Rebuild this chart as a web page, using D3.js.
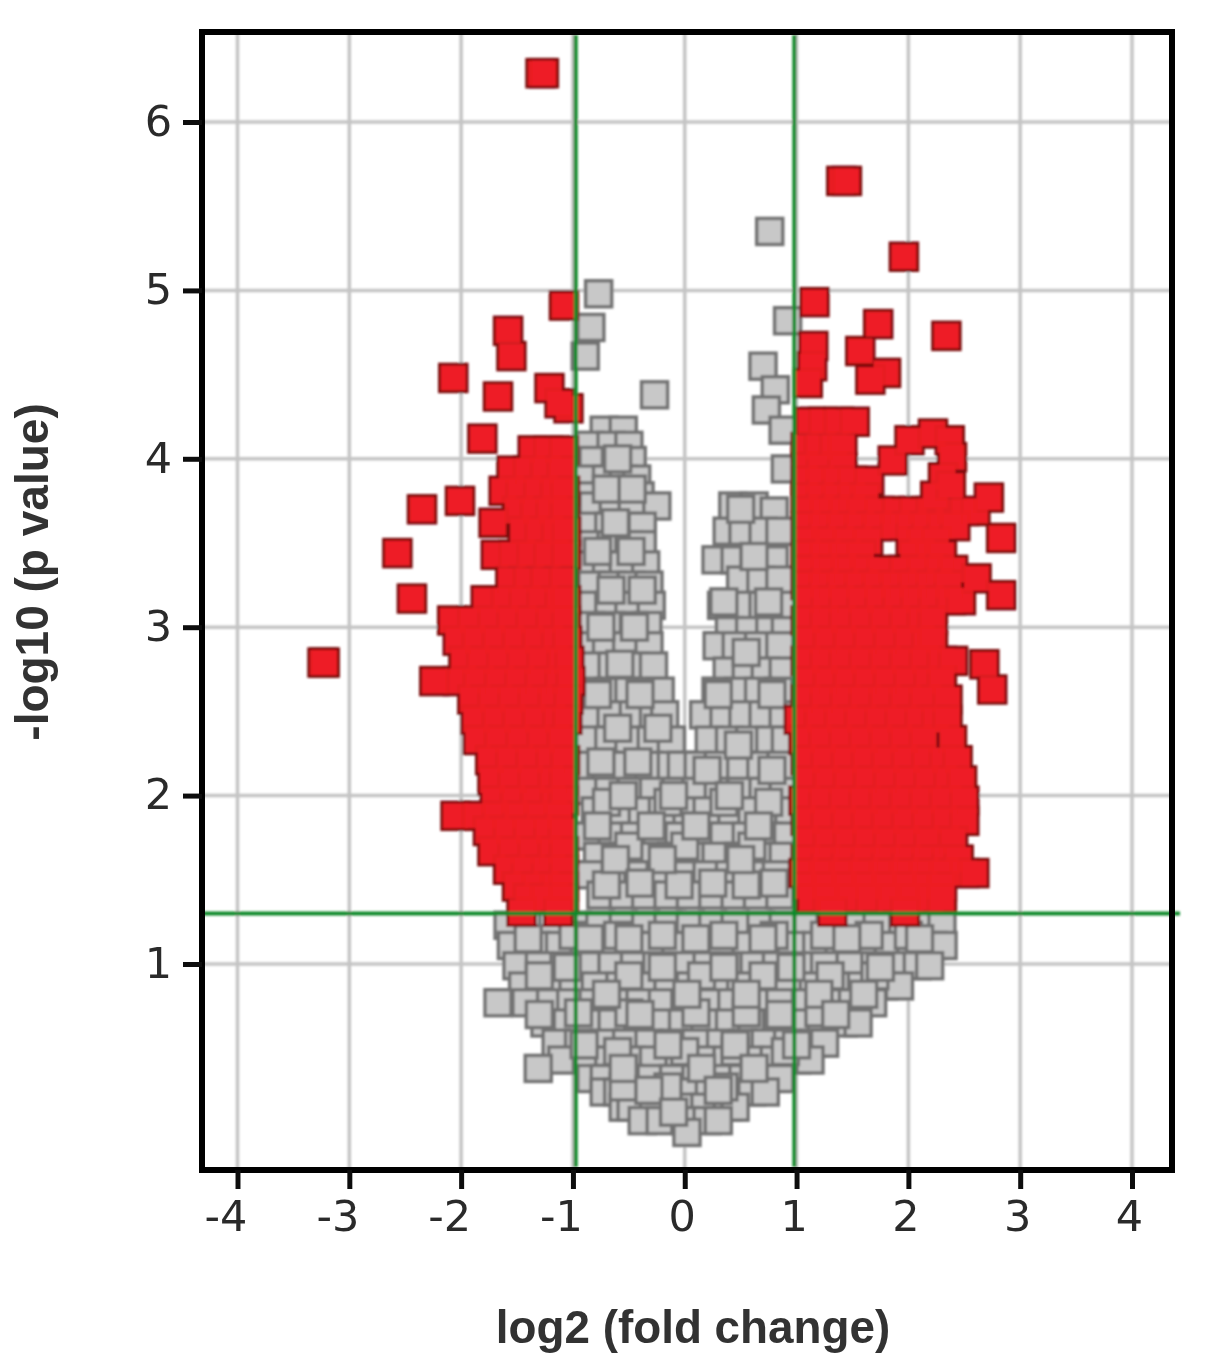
<!DOCTYPE html>
<html><head><meta charset="utf-8">
<script src="https://d3js.org/d3.v7.min.js"></script>
<style>html,body{margin:0;background:#fff}svg{display:block}</style></head>
<body><svg id="c" width="1205" height="1366"></svg>
<script>
// tick labels and thresholds
const xTicks=[-4,-3,-2,-1,0,1,2,3,4];
const yTicks=[1,2,3,4,5,6];
const xThresholds=[-0.975,0.98];
const yThreshold=1.3;
// each row: [y, x, x, ...]
const grayOutliers=[[5.35,0.76],[4.98,-0.77],[4.82,0.92],[4.78,-0.84],[4.61,-0.89],[4.55,0.70],[4.41,0.81],[4.38,-0.27],[4.29,0.73],[4.17,0.88],[3.94,0.90],[0.77,-1.67],[0.38,-1.31]];
const grayLeftWing=[
[4.17,-0.72,-0.55],[4.08,-0.85,-0.66,-0.5],[3.99,-0.82,-0.62,-0.47],[3.88,-0.86,-0.7,-0.55,-0.43],
[3.78,-0.85,-0.68,-0.52,-0.4],[3.72,-0.82,-0.64,-0.47,-0.25],[3.60,-0.86,-0.68,-0.52,-0.38],
[3.49,-0.84,-0.66,-0.5,-0.38],[3.37,-0.85,-0.7,-0.55,-0.35],[3.25,-0.83,-0.65,-0.48,-0.32],
[3.13,-0.86,-0.68,-0.5,-0.3],[3.01,-0.84,-0.66,-0.46,-0.33],[2.89,-0.85,-0.7,-0.52,-0.32],
[2.77,-0.83,-0.65,-0.45,-0.28],[2.62,-0.86,-0.68,-0.5,-0.32,-0.22],[2.48,-0.84,-0.66,-0.46,-0.28,-0.18],
[2.33,-0.85,-0.68,-0.5,-0.3,-0.12],[2.18,-0.88,-0.7,-0.52,-0.32,-0.12,-0.03]];
const grayRightWing=[
[3.72,0.43,0.62],[3.69,0.8],[3.57,0.38,0.52,0.7,0.85],[3.40,0.28,0.45,0.62,0.8],[3.28,0.5,0.68,0.85],
[3.13,0.33,0.52,0.7,0.87],[2.98,0.4,0.58,0.76,0.9],[2.89,0.29,0.46,0.66,0.85],[2.74,0.38,0.55,0.72,0.88],
[2.62,0.28,0.48,0.66,0.84],[2.48,0.17,0.35,0.52,0.7,0.88],[2.33,0.22,0.4,0.58,0.76,0.9],[2.18,0.12,0.3,0.5,0.68,0.86]];
const grayCore=[
[2.03,-0.88,-0.68,-0.48,-0.28,-0.08,0.1,0.3,0.5,0.7,0.88],
[1.91,-0.8,-0.6,-0.38,-0.2,0.02,0.2,0.42,0.6,0.8,0.93],
[1.76,-0.86,-0.65,-0.45,-0.25,-0.05,0.15,0.35,0.55,0.75,0.92],
[1.64,-0.78,-0.55,-0.3,-0.12,0.08,0.28,0.48,0.68,0.88],
[1.53,-0.85,-0.62,-0.42,-0.22,0,0.2,0.4,0.62,0.82],
[1.41,-0.75,-0.55,-0.35,-0.15,0.05,0.25,0.45,0.65,0.85]];
const grayLower=[
[1.23,-1.58,-1.38,-1.18,-0.96,-0.76,-0.55,-0.35,-0.15,0.05,0.25,0.45,0.68,0.88,1.1,1.3,1.52,1.72,1.95,2.12,2.3],
[1.11,-1.55,-1.33,-1.12,-0.9,-0.7,-0.48,-0.28,-0.08,0.12,0.32,0.55,0.75,0.95,1.18,1.38,1.6,1.82,2.02,2.22,2.31],
[0.99,-1.5,-1.3,-1.08,-0.88,-0.65,-0.45,-0.25,-0.02,0.2,0.4,0.62,0.82,1.05,1.25,1.48,1.7,1.9,2.08,2.19],
[0.87,-1.45,-1.2,-1.0,-0.8,-0.58,-0.38,-0.15,0.05,0.28,0.5,0.72,0.92,1.15,1.35,1.58,1.78,1.92],
[0.77,-1.42,-1.2,-1.02,-0.82,-0.62,-0.4,-0.2,0,0.22,0.42,0.65,0.85,1.08,1.3,1.5,1.68],
[0.65,-1.25,-1.05,-0.85,-0.65,-0.42,-0.22,-0.02,0.18,0.4,0.6,0.82,1.02,1.22,1.42,1.55],
[0.53,-1.15,-0.95,-0.72,-0.52,-0.32,-0.1,0.1,0.32,0.52,0.72,0.92,1.15,1.25],
[0.43,-1.1,-0.88,-0.68,-0.48,-0.28,-0.05,0.15,0.38,0.58,0.8,1.0,1.12],
[0.32,-0.84,-0.72,-0.5,-0.3,-0.1,0.1,0.3,0.52,0.72,0.85],
[0.24,-0.72,-0.6,-0.42,-0.2,0,0.22,0.45,0.6,0.72],
[0.15,-0.55,-0.48,-0.28,-0.05,0.18,0.38,0.45],
[0.07,-0.38,-0.22,0,0.2,0.3],
[0,0.02]];
const grayMid=[
[1.96,-0.7,-0.15,0.35,0.75],[1.7,-0.5,0,0.6],[1.47,-0.7,-0.05,0.55],
[1.17,-1.0,-0.6,-0.2,0.35,0.8,1.25,1.65,2.0],[0.93,-1.3,-0.5,0.15,0.7,1.3,1.7],
[0.71,-0.95,-0.5,0.1,0.55,1.2],[0.48,-0.6,0,0.45,0.9],[0.27,-0.55,-0.15,0.35]];
const grayTop=[
[4.0,-0.6],[3.82,-0.7,-0.47],[3.62,-0.62],[3.45,-0.78,-0.48],[3.22,-0.66,-0.38],[3.0,-0.75,-0.45],
[2.78,-0.58],[2.6,-0.78,-0.4],[2.4,-0.6,-0.24],[2.2,-0.75,-0.42],
[3.7,0.5],[3.42,0.62],[3.15,0.35,0.75],[2.85,0.55],[2.6,0.3,0.78],[2.3,0.48],[2.15,0.78,0.2],
[2.0,-0.55,-0.1,0.4],[1.82,-0.78,-0.3,0.1,0.66],[1.62,-0.62,-0.2,0.5],[1.48,-0.4,0.25,0.8],
[1.15,-1.4,-0.85,-0.5,0.1,0.7,1.45,2.1],[0.98,-1.05,-0.2,0.35,0.95,1.75],[0.82,-0.7,0.02,0.55,1.2,1.6],
[0.7,-1.3,-0.4,0.85,1.35],[0.52,-0.9,-0.15,0.45,1.0],[0.38,-0.55,0.15,0.62],[0.25,-0.32,0.3],[0.12,-0.1]];
const redOutliers=[[6.29,-1.29,-1.26],[5.65,1.40,1.45],[5.20,1.96],[4.93,1.16],[4.91,-1.08],[4.80,1.73],[4.76,-1.58],[4.73,2.34],[4.67,1.15],[4.64,1.57],[4.61,-1.55],[4.55,1.14],[4.51,1.80],[4.48,-2.07],[4.47,1.66],[4.45,1.10],[4.42,-1.21],[4.37,-1.67],[4.30,-1.04],[4.33,-1.12],[4.12,-1.81],[3.75,-2.01],[3.70,-2.35],[3.62,-1.71],[3.53,2.83],[3.44,-2.57],[3.29,2.61],[3.19,2.83],[3.17,-2.44],[2.79,-3.24],[2.79,-3.22],[2.68,-2.24],[2.78,2.68],[2.63,2.75],[3.77,2.72]];
const redRing=[[3.99,1.86],[4.11,2.01],[4.15,2.22],[4.11,2.37],[4.01,2.39],[3.89,2.31],[3.78,2.24],[3.84,2.38]];
const redLeftBody=[
[4.05,-1.36,-1.22,-1.08],[3.93,-1.55,-1.40,-1.25,-1.10],[3.81,-1.62,-1.47,-1.31,-1.16,-1.07],
[3.69,-1.50,-1.34,-1.20,-1.07],[3.57,-1.45,-1.30,-1.15,-1.06],[3.43,-1.69,-1.53,-1.37,-1.22,-1.06],
[3.28,-1.56,-1.40,-1.25,-1.08],[3.16,-1.78,-1.60,-1.44,-1.28,-1.12,-1.06],
[3.04,-2.08,-1.90,-1.72,-1.55,-1.38,-1.2,-1.06],[2.92,-2.03,-1.86,-1.68,-1.50,-1.32,-1.15,-1.05],
[2.80,-1.98,-1.82,-1.64,-1.46,-1.28,-1.1,-1.03],[2.68,-2.03,-1.85,-1.66,-1.48,-1.3,-1.12,-1.02],
[2.57,-1.90,-1.72,-1.54,-1.36,-1.18,-1.04],[2.45,-1.87,-1.68,-1.5,-1.32,-1.14,-1.05],
[2.33,-1.85,-1.66,-1.47,-1.28,-1.1],[2.21,-1.74,-1.56,-1.38,-1.2,-1.07],[2.09,-1.72,-1.54,-1.36,-1.18,-1.08],
[1.97,-1.70,-1.52,-1.34,-1.16,-1.08],[1.88,-2.05,-1.86,-1.68,-1.5,-1.3,-1.12],[1.79,-1.76,-1.58,-1.4,-1.22,-1.09],
[1.67,-1.72,-1.54,-1.36,-1.18,-1.08],[1.56,-1.58,-1.42,-1.24,-1.08],[1.46,-1.5,-1.32,-1.15,-1.08],
[1.39,-1.4,-1.24,-1.08],[1.31,-1.46,-1.13]];
const redRightBody=[
[4.22,1.12,1.24,1.38,1.52],[4.07,1.08,1.2,1.34,1.41],[3.95,1.08,1.22,1.41],
[3.87,1.08,1.22,1.36,1.5,1.65],[3.77,1.08,1.22,1.36,1.5,1.62],
[3.69,1.1,1.26,1.42,1.58,1.74,1.9,2.05,2.2,2.36,2.5,2.6],[3.60,1.08,1.24,1.4,1.56,1.72,1.88,2.02,2.16,2.3,2.42],
[3.51,1.1,1.28,1.46,1.64,2.02,2.12,2.25],[3.43,1.08,1.25,1.42,1.58,2.04,2.2,2.3],
[3.34,1.1,1.26,1.44,1.62,1.76,1.96,2.12,2.28,2.4],[3.25,1.08,1.24,1.4,1.56,1.72,1.88,2.04,2.2,2.36],
[3.16,1.1,1.26,1.42,1.58,1.74,1.9,2.06,2.22,2.38,2.47],[3.04,1.08,1.25,1.42,1.6,1.78,1.96,2.12,2.22],
[2.92,1.1,1.28,1.46,1.64,1.82,2.0,2.16,2.22],[2.80,1.08,1.25,1.42,1.6,1.78,1.96,2.14,2.3,2.4],
[2.68,1.1,1.28,1.46,1.64,1.82,2.0,2.18,2.3],[2.57,1.08,1.25,1.43,1.6,1.78,1.96,2.14,2.35],
[2.45,1.02,1.2,1.38,1.56,1.74,1.92,2.1,2.25,2.35],[2.33,1.06,1.24,1.42,1.6,1.78,1.96,2.14,2.39],
[2.21,1.08,1.26,1.44,1.62,1.8,1.98,2.16,2.32,2.44],[2.09,1.1,1.28,1.46,1.64,1.82,2.0,2.18,2.36,2.48],
[1.97,1.06,1.24,1.42,1.6,1.78,1.96,2.14,2.32,2.5],[1.85,1.08,1.26,1.44,1.62,1.8,1.98,2.16,2.34,2.5],
[1.73,1.1,1.28,1.46,1.64,1.82,2.0,2.18,2.4],[1.62,1.08,1.26,1.44,1.62,1.8,1.98,2.16,2.34,2.45],
[1.54,1.06,1.24,1.42,1.6,1.78,1.96,2.14,2.32,2.5,2.59],[1.46,1.1,1.28,1.46,1.64,1.82,2.0,2.18,2.3],
[1.39,1.13,1.28,1.48,1.66,1.84,2.02,2.2,2.3],[1.31,1.32,1.97]];

const toPoints=rows=>rows.flatMap(([y,...xs])=>xs.map(x=>({x,y})));
const grayPoints=toPoints([...grayLower,...grayCore,...grayLeftWing,...grayRightWing,...grayMid,...grayTop,...grayOutliers]);
const redPoints=toPoints([...redLeftBody,...redRightBody,...redRing,...redOutliers]);

const svg=d3.select("#c");
const x=d3.scaleLinear().domain([-4,4]).range([237.5,1132]);
const y=d3.scaleLinear().domain([0,6]).range([1132.4,122]);
const L=202,R=1172,T=32,B=1170;

const defs=svg.append("defs");
defs.append("filter").attr("id","soft").attr("x","-2%").attr("y","-2%").attr("width","104%").attr("height","104%")
  .append("feGaussianBlur").attr("stdDeviation",1);
defs.append("filter").attr("id","softText").attr("x","-5%").attr("y","-5%").attr("width","110%").attr("height","110%")
  .append("feGaussianBlur").attr("stdDeviation",0.6);

const plot=svg.append("g").attr("filter","url(#soft)");
// grid
plot.append("g").selectAll("line").data(xTicks).join("line")
  .attr("x1",d=>x(d)).attr("x2",d=>x(d)).attr("y1",T).attr("y2",B)
  .attr("stroke","#c4c4c4").attr("stroke-width",3.5);
plot.append("g").selectAll("line").data(yTicks).join("line")
  .attr("x1",L).attr("x2",R).attr("y1",d=>y(d)).attr("y2",d=>y(d))
  .attr("stroke","#c4c4c4").attr("stroke-width",3.5);

// gray squares
const gs=26;
plot.append("g").selectAll("rect").data(grayPoints).join("rect")
  .attr("x",d=>x(d.x)-gs/2).attr("y",d=>y(d.y)-gs/2).attr("width",gs).attr("height",gs)
  .attr("fill","#c8c8c8").attr("stroke","#727272").attr("stroke-width",3.5);

// red squares: outlined layer, then a nearly opaque fill layer that hides inner edges
const rs=27;
plot.append("g").selectAll("rect").data(redPoints).join("rect")
  .attr("x",d=>x(d.x)-rs/2).attr("y",d=>y(d.y)-rs/2).attr("width",rs).attr("height",rs)
  .attr("fill","#ee1c25").attr("stroke","#7c0c10").attr("stroke-width",3.5);
plot.append("g").selectAll("rect").data(redPoints).join("rect")
  .attr("x",d=>x(d.x)-rs/2+1).attr("y",d=>y(d.y)-rs/2+1).attr("width",rs-2).attr("height",rs-2)
  .attr("fill","#ee1c25").attr("fill-opacity",0.92);

// thresholds
plot.append("g").selectAll("line").data(xThresholds).join("line")
  .attr("x1",d=>x(d)).attr("x2",d=>x(d)).attr("y1",T+3).attr("y2",B-3)
  .attr("stroke","#0f8a2a").attr("stroke-width",4);
plot.append("line").attr("x1",L).attr("x2",R+8).attr("y1",y(yThreshold)).attr("y2",y(yThreshold))
  .attr("stroke","#0f8a2a").attr("stroke-width",4);

// frame
svg.append("rect").attr("x",L).attr("y",T).attr("width",R-L).attr("height",B-T)
  .attr("fill","none").attr("stroke","#000").attr("stroke-width",6);

// axes
const xAxis=d3.axisBottom(x).tickValues(xTicks).tickSize(19).tickFormat(d=>d<0?"-"+Math.abs(d):d);
const gx=svg.append("g").attr("transform",`translate(0,${B})`).attr("filter","url(#softText)").call(xAxis);
const yAxis=d3.axisLeft(y).tickValues(yTicks).tickSize(19).tickFormat(d3.format("d"));
const gy=svg.append("g").attr("transform",`translate(${L},0)`).attr("filter","url(#softText)").call(yAxis);
[gx,gy].forEach(g=>{
  g.select(".domain").remove();
  g.selectAll(".tick line").attr("stroke","#111").attr("stroke-width",5);
  g.selectAll("text").attr("font-family","'DejaVu Sans',sans-serif").attr("font-size",43).attr("fill","#2c2c2c");
});
gx.selectAll("text").attr("y",30).attr("dy","0.71em").attr("dx",d=>d<0?-12:-3);
gy.selectAll("text").attr("x",-30).attr("dy","0.31em");

// titles
svg.append("text").attr("x",693).attr("y",1343).attr("text-anchor","middle")
  .attr("font-family","'Liberation Sans',Arial,sans-serif").attr("font-weight","bold")
  .attr("font-size",45.8).attr("fill","#333").attr("filter","url(#softText)").text("log2 (fold change)");
svg.append("text").attr("transform","translate(48,572) rotate(-90)").attr("text-anchor","middle")
  .attr("font-family","'Liberation Sans',Arial,sans-serif").attr("font-weight","bold")
  .attr("font-size",46).attr("fill","#333").attr("filter","url(#softText)").text("-log10 (p value)");
</script></body></html>
